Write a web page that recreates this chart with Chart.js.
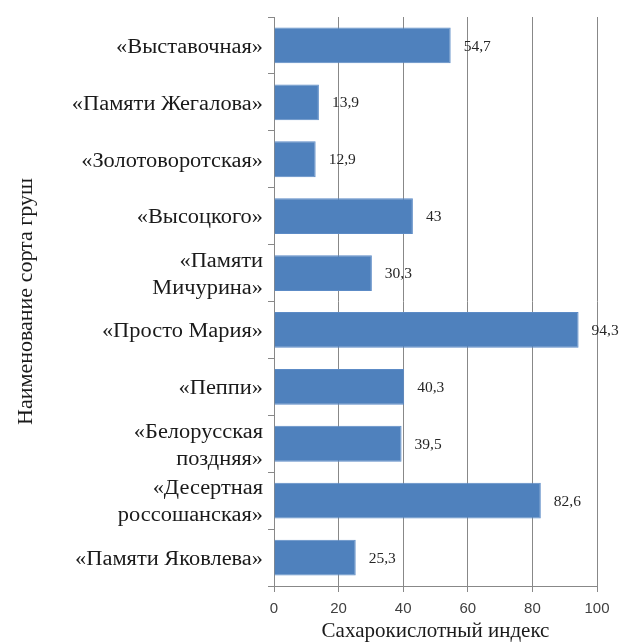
<!DOCTYPE html>
<html>
<head>
<meta charset="utf-8">
<script src="https://cdn.jsdelivr.net/npm/chart.js@4/dist/chart.umd.min.js"></script>
<style>
  html, body { margin: 0; padding: 0; background: #fff; }
  #wrap { width: 621px; height: 644px; }
</style>
</head>
<body>
<div id="wrap"><canvas id="c" width="621" height="644"></canvas></div>
<script>
// сорта груш (сверху вниз) и сахарокислотный индекс
const varieties = [
    '«Выставочная»',
    '«Памяти Жегалова»',
    '«Золотоворотская»',
    '«Высоцкого»',
    ['«Памяти', 'Мичурина»'],
    '«Просто Мария»',
    '«Пеппи»',
    ['«Белорусская', 'поздняя»'],
    ['«Десертная', 'россошанская»'],
    '«Памяти Яковлева»'
];
const sugarAcidIndex = [54.7, 13.9, 12.9, 43, 30.3, 94.3, 40.3, 39.5, 82.6, 25.3];
const xTicks = [0, 20, 40, 60, 80, 100];

const serif = '"Liberation Serif", "Times New Roman", serif';
const gridGray = '#888888';
const textColor = '#1a1a1a';

// подписи значений справа от столбцов
const valueLabels = {
    id: 'valueLabels',
    afterDatasetsDraw(chart) {
        const ctx = chart.ctx;
        const meta = chart.getDatasetMeta(0);
        ctx.save();
        ctx.font = '15.5px ' + serif;
        ctx.fillStyle = '#262626';
        ctx.textAlign = 'left';
        ctx.textBaseline = 'middle';
        meta.data.forEach((bar, i) => {
            let txt = String(sugarAcidIndex[i]).replace('.', ',');
            ctx.fillText(txt, bar.x + 13, bar.y + 1);
        });
        ctx.restore();
    }
};

// названия сортов: шрифт в оригинале чуть растянут по горизонтали
const categoryLabels = {
    id: 'categoryLabels',
    afterDraw(chart) {
        const ctx = chart.ctx;
        const ys = chart.scales.y;
        const xRight = ys.right - 11;
        ctx.save();
        ctx.font = '20px ' + serif;
        ctx.fillStyle = textColor;
        ctx.textAlign = 'right';
        ctx.textBaseline = 'middle';
        chart.data.labels.forEach((lab, i) => {
            const lines = Array.isArray(lab) ? lab : [lab];
            const yc = ys.getPixelForValue(i) + 2;
            lines.forEach((t, k) => {
                const y = yc + (k - (lines.length - 1) / 2) * 27;
                ctx.save();
                ctx.translate(xRight, y);
                ctx.scale(1.12, 1);
                ctx.fillText(t, 0, 0);
                ctx.restore();
            });
        });
        ctx.restore();
    }
};

new Chart(document.getElementById('c'), {
    type: 'bar',
    data: {
        labels: varieties,
        datasets: [{
            data: sugarAcidIndex,
            backgroundColor: '#4F81BD',
            borderColor: '#5C8BC6',
            borderWidth: 1,
            barPercentage: 0.63,
            categoryPercentage: 1.0
        }]
    },
    options: {
        indexAxis: 'y',
        responsive: false,
        animation: false,
        layout: { padding: { top: 17, right: 24, left: 0, bottom: 0 } },
        plugins: { legend: { display: false }, tooltip: { enabled: false } },
        scales: {
            x: {
                min: 0, max: 100,
                afterBuildTicks: (scale) => { scale.ticks = xTicks.map(v => ({ value: v })); },
                afterFit: (scale) => { scale.height = 58; },
                grid: { color: gridGray, lineWidth: 1, tickLength: 6, drawTicks: true },
                border: { color: gridGray, width: 1 },
                ticks: {
                    padding: 8,
                    color: '#404040',
                    font: { family: '"Liberation Sans", Arial, sans-serif', size: 15 }
                },
                title: {
                    display: true,
                    text: 'Сахарокислотный индекс',
                    color: textColor,
                    font: { family: serif, size: 21 },
                    padding: { top: 0, bottom: 0 }
                }
            },
            y: {
                afterFit: (scale) => { scale.width = 274; },
                grid: { drawOnChartArea: false, drawTicks: true, tickLength: 6, color: gridGray, offset: true },
                border: { color: gridGray, width: 1 },
                ticks: { display: false, autoSkip: false },
                title: {
                    display: true,
                    text: 'Наименование сорта груш',
                    color: textColor,
                    font: { family: serif, size: 22 },
                    padding: { top: 13, bottom: 0 }
                }
            }
        }
    },
    plugins: [valueLabels, categoryLabels]
});
</script>
</body>
</html>
